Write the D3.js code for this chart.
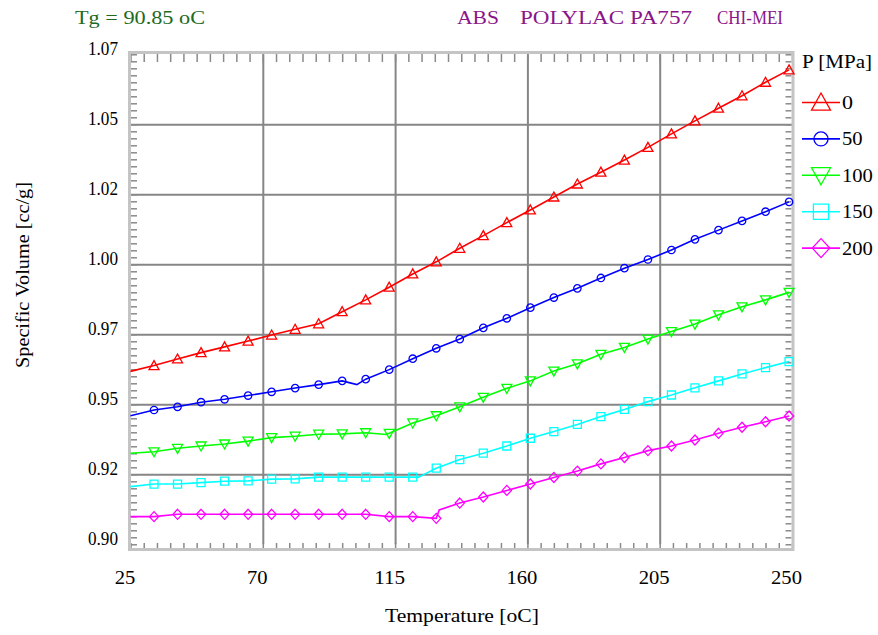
<!DOCTYPE html>
<html>
<head>
<meta charset="utf-8">
<script src="https://cdn.jsdelivr.net/npm/d3@7"></script>
<style>
body { margin: 0; background: #fff; }
svg text { font-family: "Liberation Serif", "Times New Roman", serif; fill: #000; }
</style>
</head>
<body>
<svg id="chart"></svg>
<script>
// temperatures of the sampled points [oC]
var temps = [25, 33, 41, 49, 57, 65, 73, 81, 89, 97, 105, 113, 121, 129, 137,
             145, 153, 161, 169, 177, 185, 193, 201, 209, 217, 225, 233, 241, 249];

// specific volume [cc/g] for each pressure
var vol0 = [0.9600, 0.9620, 0.9643, 0.9665, 0.9685, 0.9705, 0.9726, 0.9746, 0.9765, 0.9807,
            0.9848, 0.9892, 0.9938, 0.9980, 1.0027, 1.0071, 1.0116, 1.0160, 1.0205, 1.0250,
            1.0291, 1.0333, 1.0377, 1.0424, 1.0469, 1.0513, 1.0556, 1.0603, 1.0646];
var vol50 = [0.9446, 0.9466, 0.9477, 0.9493, 0.9503, 0.9516, 0.9529, 0.9542, 0.9554, 0.9567,
             0.9573, 0.9606, 0.9644, 0.9680, 0.9712, 0.9751, 0.9784, 0.9821, 0.9856, 0.9888,
             0.9924, 0.9958, 0.9988, 1.0021, 1.0058, 1.0090, 1.0122, 1.0154, 1.0188];
var vol100 = [0.9316, 0.9321, 0.9333, 0.9341, 0.9348, 0.9358, 0.9370, 0.9375, 0.9382, 0.9383,
              0.9387, 0.9385, 0.9421, 0.9446, 0.9477, 0.9510, 0.9541, 0.9567, 0.9601, 0.9626,
              0.9659, 0.9683, 0.9712, 0.9738, 0.9764, 0.9796, 0.9824, 0.9848, 0.9874];
var vol150 = [0.9200, 0.9209, 0.9209, 0.9214, 0.9219, 0.9220, 0.9226, 0.9227, 0.9233, 0.9233,
              0.9233, 0.9233, 0.9233, 0.9264, 0.9294, 0.9316, 0.9341, 0.9368, 0.9391, 0.9416,
              0.9443, 0.9468, 0.9495, 0.9518, 0.9543, 0.9567, 0.9591, 0.9613, 0.9634];
var vol200 = [0.9096, 0.9096, 0.9104, 0.9104, 0.9104, 0.9104, 0.9104, 0.9104, 0.9104, 0.9104,
              0.9104, 0.9096, 0.9096, 0.9090, 0.9143, 0.9164, 0.9187, 0.9209, 0.9232, 0.9254,
              0.9279, 0.9301, 0.9325, 0.9341, 0.9362, 0.9385, 0.9406, 0.9425, 0.9445];

// extra point at the glass transition (no marker)
var tgTemps = [null, 102, 112, 123, 130];
var tgVols  = [null, 0.9554, 0.9381, 0.9233, 0.9119];

var pressures = ["0", "50", "100", "150", "200"];
var colors = ["#ff0000", "#0000ff", "#00ff00", "#00ffff", "#ff00ff"];
var shapes = ["triUp", "circle", "triDown", "square", "diamond"];

var xTickVals = [25, 70, 115, 160, 205, 250];
var xTickLabels = ["25", "70", "115", "160", "205", "250"];
var yTickLabels = ["0.90", "0.92", "0.95", "0.97", "1.00", "1.02", "1.05", "1.07"];

var width = 878, height = 635;
var fs = "19px";

// narrow bitmap-like look: squeeze glyphs into measured widths
function fit(sel, w) {
    sel.attr("textLength", w).attr("lengthAdjust", "spacingAndGlyphs");
}
function numWidth(s) {
    return s.length == 4 ? 30 : s.length * 10.3;
}

var svg = d3.select("#chart")
    .attr("width", width)
    .attr("height", height);

svg.append("rect").attr("width", width).attr("height", height).attr("fill", "#fff");

var x = d3.scaleLinear().domain([25, 250]).range([130.5, 792]);
var y = d3.scaleLinear().domain([0.90, 1.07]).range([544.3, 54.3]);

// 7 equal intervals, labels rounded
var yTickVals = d3.range(8).map(function(i) { return 0.90 + i * 0.17 / 7; });
var xMinor = d3.range(25, 250.01, 4.5);
var yMinor = d3.range(71).map(function(i) { return 0.90 + i * 0.17 / 70; });

function clean(g) { g.select(".domain").remove(); }

// grid lines
svg.append("g")
    .attr("transform", "translate(0,544.3)")
    .call(d3.axisBottom(x).tickValues(xTickVals.slice(1, -1)).tickSize(-490).tickFormat(""))
    .call(clean)
    .selectAll("line").attr("stroke", "#868686").attr("stroke-width", 2);

svg.append("g")
    .attr("transform", "translate(130,0)")
    .call(d3.axisRight(y).tickValues(yTickVals.slice(1, -1)).tickSize(662).tickFormat(""))
    .call(clean)
    .selectAll("line").attr("stroke", "#868686").attr("stroke-width", 2);

// minor ticks on all four sides
svg.append("g").attr("transform", "translate(0,548)")
    .call(d3.axisTop(x).tickValues(xMinor).tickSize(5).tickFormat(""))
    .call(clean)
    .selectAll("line").attr("stroke", "#8a8a8a").attr("stroke-width", 1.5);
svg.append("g").attr("transform", "translate(0,54)")
    .call(d3.axisBottom(x).tickValues(xMinor).tickSize(8).tickFormat(""))
    .call(clean)
    .selectAll("line").attr("stroke", "#8a8a8a").attr("stroke-width", 1.5);
svg.append("g").attr("transform", "translate(131,0)")
    .call(d3.axisRight(y).tickValues(yMinor).tickSize(6).tickFormat(""))
    .call(clean)
    .selectAll("line").attr("stroke", "#8a8a8a").attr("stroke-width", 1.5);
svg.append("g").attr("transform", "translate(791.5,0)")
    .call(d3.axisLeft(y).tickValues(yMinor).tickSize(6).tickFormat(""))
    .call(clean)
    .selectAll("line").attr("stroke", "#8a8a8a").attr("stroke-width", 1.5);

// frame
svg.append("rect")
    .attr("x", 129.5).attr("y", 52.5)
    .attr("width", 663.5).attr("height", 497)
    .attr("fill", "none")
    .attr("stroke", "#c4c4c4")
    .attr("stroke-width", 3);

// tick labels
var yAx = svg.append("g")
    .attr("transform", "translate(118,0)")
    .call(d3.axisLeft(y).tickValues(yTickVals)
        .tickFormat(function(d, i) { return yTickLabels[i]; })
        .tickSize(0).tickPadding(0))
    .call(clean);
yAx.attr("font-family", null).attr("font-size", null);
yAx.selectAll("text").attr("dy", "0").style("font-size", fs)
    .each(function(d, i) { fit(d3.select(this), numWidth(yTickLabels[i])); });

var xAx = svg.append("g")
    .attr("transform", "translate(-6,544.3)")
    .call(d3.axisBottom(x).tickValues(xTickVals)
        .tickFormat(function(d, i) { return xTickLabels[i]; })
        .tickSize(0).tickPadding(40))
    .call(clean);
xAx.attr("font-family", null).attr("font-size", null);
xAx.selectAll("text").attr("dy", "0").style("font-size", fs)
    .each(function(d, i) { fit(d3.select(this), numWidth(xTickLabels[i])); });

// titles
svg.append("text")
    .attr("x", 462).attr("y", 622)
    .attr("text-anchor", "middle")
    .style("font-size", fs)
    .text("Temperature [oC]")
    .call(fit, 154);

svg.append("text")
    .attr("transform", "translate(29,275) rotate(-90)")
    .attr("text-anchor", "middle")
    .style("font-size", fs)
    .text("Specific Volume [cc/g]")
    .call(fit, 186);

svg.append("text")
    .attr("x", 75).attr("y", 24)
    .style("font-size", fs).style("fill", "#1e6b1e")
    .text("Tg = 90.85 oC")
    .call(fit, 130);

var head = [["ABS", 457, 42], ["POLYLAC PA757", 520, 172], ["CHI-MEI", 717, 66]];
svg.selectAll(".head").data(head).enter().append("text")
    .attr("class", "head")
    .attr("x", function(d) { return d[1]; }).attr("y", 24)
    .attr("textLength", function(d) { return d[2]; })
    .attr("lengthAdjust", "spacingAndGlyphs")
    .style("font-size", fs).style("fill", "#8a168a")
    .text(function(d) { return d[0]; });

// marker shapes, s = scale
function markerPath(shape, s) {
    var p = d3.path();
    if (shape == "triUp") {
        p.moveTo(0, -5 * s); p.lineTo(5 * s, 4 * s); p.lineTo(-5 * s, 4 * s); p.closePath();
    } else if (shape == "triDown") {
        p.moveTo(0, 5 * s); p.lineTo(5 * s, -4 * s); p.lineTo(-5 * s, -4 * s); p.closePath();
    } else if (shape == "circle") {
        p.arc(0, 0, 3.7 * s, 0, 2 * Math.PI);
    } else if (shape == "square") {
        p.rect(-4 * s, -4 * s, 8 * s, 8 * s);
    } else {
        p.moveTo(0, -5 * s); p.lineTo(4.6 * s, 0); p.lineTo(0, 5 * s); p.lineTo(-4.6 * s, 0); p.closePath();
    }
    return p.toString();
}

var allVols = [vol0, vol50, vol100, vol150, vol200];

var line = d3.line()
    .x(function(d) { return x(d[0]); })
    .y(function(d) { return y(d[1]); });

allVols.forEach(function(vals, s) {
    var pts = temps.map(function(t, i) { return [t, vals[i]]; });
    if (tgTemps[s] != null) {
        pts.push([tgTemps[s], tgVols[s]]);
        pts.sort(function(a, b) { return a[0] - b[0]; });
    }
    var g = svg.append("g").attr("class", "series");
    g.append("path")
        .attr("d", line(pts))
        .attr("fill", "none")
        .attr("stroke", colors[s])
        .attr("stroke-width", 1.6);
    g.selectAll("path.mk")
        .data(temps.slice(1).map(function(t, i) { return [t, vals[i + 1]]; }))
        .enter().append("path")
        .attr("class", "mk")
        .attr("transform", function(d) { return "translate(" + x(d[0]) + "," + y(d[1]) + ")"; })
        .attr("d", markerPath(shapes[s], 1))
        .attr("fill", "none")
        .attr("stroke", colors[s])
        .attr("stroke-width", 1.3);
});

// legend
svg.append("text")
    .attr("x", 802).attr("y", 68)
    .style("font-size", fs)
    .text("P [MPa]")
    .call(fit, 70);

var leg = svg.selectAll(".leg").data(pressures).enter().append("g")
    .attr("class", "leg")
    .attr("transform", function(d, i) { return "translate(0," + (102.5 + i * 36.4) + ")"; });
leg.append("line")
    .attr("x1", 802).attr("x2", 840)
    .attr("stroke", function(d, i) { return colors[i]; })
    .attr("stroke-width", 1.6);
leg.append("path")
    .attr("transform", "translate(821,0)")
    .attr("d", function(d, i) { return markerPath(shapes[i], 1.9); })
    .attr("fill", "none")
    .attr("stroke", function(d, i) { return colors[i]; })
    .attr("stroke-width", 1.3);
leg.append("text")
    .attr("x", 842).attr("y", 6.5)
    .style("font-size", fs)
    .attr("textLength", function(d) { return d.length == 1 ? 11 : d.length * 10.3; })
    .attr("lengthAdjust", "spacingAndGlyphs")
    .text(function(d) { return d; });
</script>
</body>
</html>
